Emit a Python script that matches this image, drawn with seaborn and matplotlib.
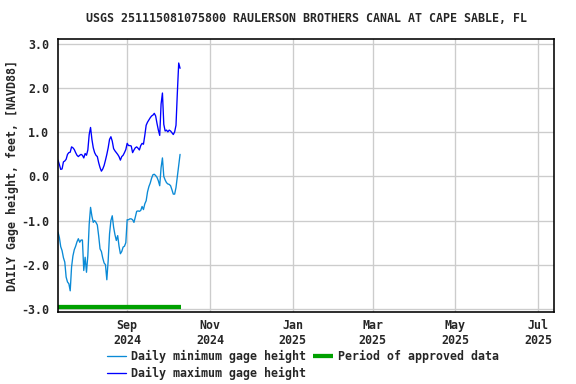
import matplotlib
matplotlib.use("Agg")
import matplotlib.pyplot as plt
import matplotlib.dates as mdates
from matplotlib.ticker import FormatStrFormatter
import numpy as np
import pandas as pd
import seaborn as sns

# ── Data ──────────────────────────────────────────────────────────
TITLE = "USGS 251115081075800 RAULERSON BROTHERS CANAL AT CAPE SABLE, FL"
START_DATE = "2024-07-12"

daily_max = [
    0.37, 0.27, 0.16, 0.17, 0.33, 0.35, 0.39, 0.50, 0.54, 0.55,
    0.67, 0.65, 0.61, 0.54, 0.48, 0.45, 0.48, 0.50, 0.48, 0.42,
    0.52, 0.48, 0.60, 0.95, 1.11, 0.84, 0.65, 0.54, 0.48, 0.45,
    0.31, 0.20, 0.12, 0.17, 0.25, 0.37, 0.50, 0.65, 0.84, 0.90,
    0.80, 0.63, 0.58, 0.54, 0.50, 0.45, 0.37, 0.45, 0.48, 0.54,
    0.61, 0.75, 0.70, 0.70, 0.69, 0.54, 0.60, 0.65, 0.67, 0.64,
    0.60, 0.70, 0.75, 0.73, 0.93, 1.16, 1.23, 1.28, 1.33, 1.37,
    1.39, 1.43, 1.37, 1.20, 1.05, 0.93, 1.64, 1.89, 1.18, 1.03,
    1.05, 1.01, 1.05, 1.03, 0.99, 0.95, 1.01, 1.16, 1.90, 2.57,
    2.45,
]

daily_min = [
    -1.26, -1.38, -1.59, -1.68, -1.84, -1.94, -2.28, -2.39, -2.43, -2.59,
    -2.05, -1.80, -1.66, -1.58, -1.48, -1.41, -1.49, -1.44, -1.44, -2.13,
    -1.83, -2.17, -1.79, -1.08, -0.70, -0.90, -1.04, -1.00, -1.04, -1.10,
    -1.35, -1.64, -1.70, -1.85, -1.96, -2.00, -2.34, -1.90, -1.30, -1.00,
    -0.89, -1.15, -1.32, -1.45, -1.34, -1.58, -1.75, -1.70, -1.60, -1.58,
    -1.50, -0.98, -0.98, -0.96, -0.96, -0.98, -1.04, -0.92, -0.79, -0.78,
    -0.79, -0.77, -0.68, -0.75, -0.62, -0.55, -0.35, -0.23, -0.15, -0.04,
    0.04, 0.05, 0.02, -0.02, -0.10, -0.21, 0.20, 0.42, 0.00, -0.08,
    -0.14, -0.17, -0.18, -0.21, -0.30, -0.40, -0.40, -0.25, 0.00, 0.25,
    0.50,
]

approved_start = "2024-07-12"
approved_end = "2024-10-11"

y_ticks = [-3.0, -2.0, -1.0, 0.0, 1.0, 2.0, 3.0]
x_tick_dates = ["2024-09-01", "2024-11-01", "2025-01-01",
                "2025-03-01", "2025-05-01", "2025-07-01"]

# ── Style ─────────────────────────────────────────────────────────
sns.set_style("white")
plt.rcParams["font.family"] = ["DejaVu Sans Mono"]
plt.rcParams["font.weight"] = "bold"
plt.rcParams["axes.unicode_minus"] = False
FS = 8.7

dates = pd.date_range(START_DATE, periods=len(daily_max), freq="D")
df = pd.DataFrame({"date": dates, "min": daily_min, "max": daily_max})

fig = plt.figure(figsize=(6, 4), dpi=96)
ax = fig.add_axes([0.1007, 0.1875, 0.8613, 0.7105])

sns.lineplot(data=df, x="date", y="min", ax=ax, color="#0a8ad6",
             linewidth=1.0, label="Daily minimum gage height")
sns.lineplot(data=df, x="date", y="max", ax=ax, color="#0000ff",
             linewidth=1.0, label="Daily maximum gage height")

ax.set_ylim(-3.07, 3.11)
ax.set_xlim(pd.Timestamp("2024-07-12 00:00"), pd.Timestamp("2025-07-12 19:00"))

ax.plot([pd.Timestamp(approved_start), pd.Timestamp(approved_end)],
        [-2.96, -2.96], color="#00a000", linewidth=3.2, solid_capstyle="butt",
        label="Period of approved data")

ax.set_yticks(y_ticks)
ax.yaxis.set_major_formatter(FormatStrFormatter("%.1f"))
ax.set_xticks([pd.Timestamp(d) for d in x_tick_dates])
ax.xaxis.set_major_formatter(mdates.DateFormatter("%b\n%Y"))

ax.grid(True, color="#cccccc", linewidth=1.0)
ax.set_axisbelow(True)
for sp in ax.spines.values():
    sp.set_color("black")
    sp.set_linewidth(1.2)
ax.tick_params(axis="both", labelsize=FS, length=3, width=0.8, color="black",
               direction="out")
ax.tick_params(axis="x", pad=2.5)
for lbl in ax.get_xticklabels() + ax.get_yticklabels():
    lbl.set_fontweight("bold")
for lbl in ax.get_xticklabels():
    lbl.set_linespacing(1.2)

ax.set_xlabel("")
ax.set_ylabel("DAILY Gage height, feet, [NAVD88]", fontsize=FS,
              fontweight="bold", labelpad=1.5)
ax.set_title(TITLE, fontsize=FS, fontweight="bold", pad=13)

handles, labels = ax.get_legend_handles_labels()
ax.get_legend().remove()
leg = fig.legend(handles, labels,
                 loc="upper center", bbox_to_anchor=(0.526, 0.104), ncol=2,
                 frameon=False, handlelength=1.7,
                 handletextpad=0.45, columnspacing=0.6, labelspacing=0.35,
                 borderpad=0.0, prop={"weight": "bold", "size": FS})

fig.savefig("out.png", dpi=96)
